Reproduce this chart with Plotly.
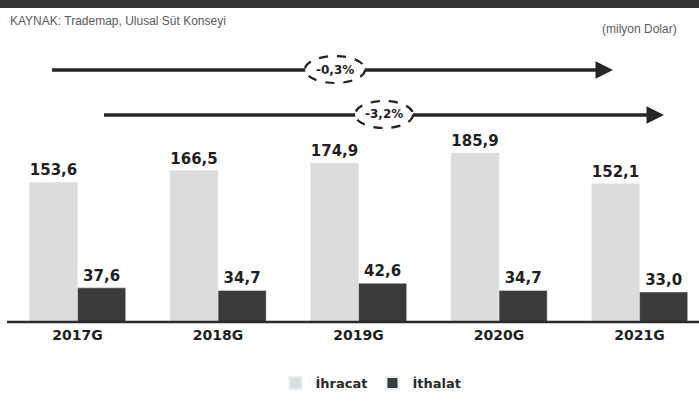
import plotly.graph_objects as go

# Dairy trade, million USD
years = ["2017G", "2018G", "2019G", "2020G", "2021G"]
ihracat = [153.6, 166.5, 174.9, 185.9, 152.1]
ithalat = [37.6, 34.7, 42.6, 34.7, 33.0]
growth_labels = ["-0,3%", "-3,2%"]

series_names = ["İhracat", "İthalat"]
source_text = "KAYNAK: Trademap, Ulusal Süt Konseyi"
unit_text = "(milyon Dolar)"

W, H = 699, 403
PLOT_BOTTOM = 322  # pixel row of the baseline (plot area spans 0..PLOT_BOTTOM)

LIGHT = "#dcdcdc"
DARK = "#3b3b3b"
INK = "#1f1f1f"
BOLD = "DejaVu Sans"


def fmt(v):
    return f"{v:.1f}".replace(".", ",")


def px_x(px):
    return px / W


def px_y(py):
    return (PLOT_BOTTOM - py) / PLOT_BOTTOM


fig = go.Figure()
fig.add_trace(go.Bar(
    x=years, y=ihracat, name=series_names[0], marker_color=LIGHT,
    text=[fmt(v) for v in ihracat], textposition="outside",
    textfont=dict(family=BOLD, size=15, color=INK, weight="bold"),
    cliponaxis=False,
))
fig.add_trace(go.Bar(
    x=years, y=ithalat, name=series_names[1], marker_color=DARK,
    text=[fmt(v) for v in ithalat], textposition="outside",
    textfont=dict(family=BOLD, size=15, color=INK, weight="bold"),
    cliponaxis=False,
))

shapes = [
    # dark header band
    dict(type="rect", xref="paper", yref="paper", x0=0, x1=1,
         y0=px_y(8), y1=1, fillcolor="#333333", line_width=0, layer="above"),
    # baseline
    dict(type="line", xref="paper", yref="paper", x0=px_x(7), x1=1,
         y0=0, y1=0, line=dict(color="#2b2b2b", width=2.5), layer="above"),
]

annotations = [
    dict(xref="paper", yref="paper", x=px_x(8), y=px_y(21), xanchor="left",
         yanchor="middle", text=source_text, showarrow=False,
         font=dict(family="Liberation Sans", size=12, color="#5a5a5a")),
    dict(xref="paper", yref="paper", x=px_x(600), y=px_y(29), xanchor="left",
         yanchor="middle", text=unit_text, showarrow=False,
         font=dict(family="Liberation Sans", size=12, color="#5a5a5a")),
]

# growth arrows: (start px, tip px, row px, ellipse box px)
arrows = [
    (52, 613, 70, (305, 365, 56, 83)),
    (104, 664, 115, (355, 413, 101, 128)),
]
for (x_start, x_tip, row, box), label in zip(arrows, growth_labels):
    shapes.append(dict(type="line", xref="paper", yref="paper",
                       x0=px_x(x_start), x1=px_x(x_tip - 6),
                       y0=px_y(row), y1=px_y(row),
                       line=dict(color="#262626", width=3.5), layer="above"))
    ex0, ex1, ey0, ey1 = box
    shapes.append(dict(type="circle", xref="paper", yref="paper",
                       x0=px_x(ex0), x1=px_x(ex1), y0=px_y(ey1), y1=px_y(ey0),
                       fillcolor="white",
                       line=dict(color="#222222", width=2.2, dash="dash"),
                       layer="above"))
    annotations.append(dict(xref="paper", yref="paper", x=px_x(x_tip),
                            y=px_y(row), ax=-14, ay=0, text="",
                            showarrow=True, arrowhead=2, arrowsize=1,
                            arrowwidth=3.5, arrowcolor="#262626"))
    annotations.append(dict(xref="paper", yref="paper",
                            x=px_x((ex0 + ex1) / 2), y=px_y((ey0 + ey1) / 2),
                            xanchor="center", yanchor="middle",
                            text=label, showarrow=False,
                            font=dict(family=BOLD, size=12, color=INK,
                                      weight="bold")))

fig.update_layout(
    width=W, height=H,
    margin=dict(l=0, r=0, t=0, b=H - PLOT_BOTTOM, pad=0),
    paper_bgcolor="white", plot_bgcolor="white",
    barmode="group", bargap=0.315, bargroupgap=0,
    showlegend=True,
    legend=dict(orientation="h", x=px_x(371), xanchor="center",
                y=px_y(383), yanchor="middle",
                font=dict(family=BOLD, size=13, color="#2a2a2a",
                          weight="bold"),
                itemsizing="constant", traceorder="normal"),
    shapes=shapes,
    annotations=annotations,
    xaxis=dict(range=[-0.552, 4.423], showgrid=False, zeroline=False,
               showline=False, ticks="", ticklabelstandoff=3,
               tickfont=dict(family=BOLD, size=14, color=INK, weight="bold")),
    yaxis=dict(range=[0, 354], visible=False, showgrid=False,
               zeroline=False),
    font=dict(family=BOLD),
)

fig.write_html("out.html")
